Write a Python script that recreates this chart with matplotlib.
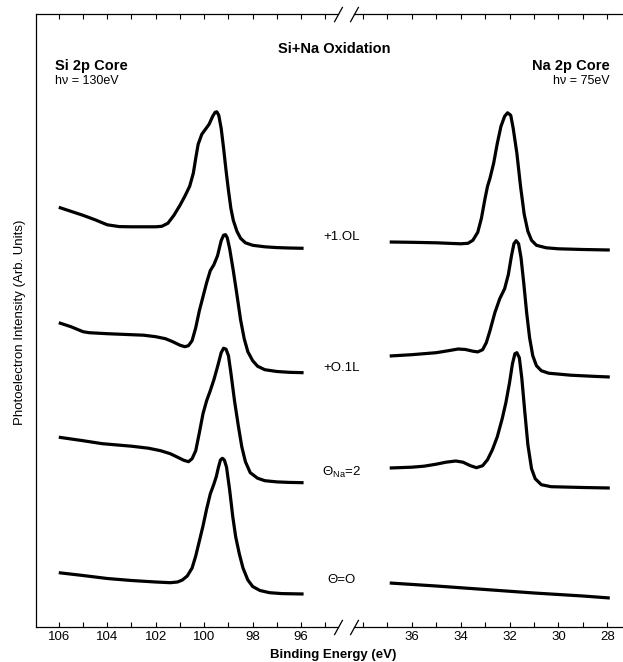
import matplotlib
matplotlib.use("Agg")
import matplotlib.pyplot as plt
import numpy as np
from matplotlib.ticker import MultipleLocator

plt.rcParams['font.family'] = ['Liberation Sans', 'DejaVu Sans']
plt.rcParams['mathtext.fontset'] = 'custom'
plt.rcParams['mathtext.rm'] = 'Liberation Sans'

# dose labels, top to bottom
doses = ["+1.OL", "+O.1L", "\u0398$_{\\rm Na}$=2", "\u0398=O"]
# vertical stacking offset of each spectrum (arb. units)
offsets = [3.787, 2.543, 1.443, 0.33]

# Si 2p core, hv = 130 eV : (binding energy, intensity)
si_10L_e = [106.0, 105.5, 105.0, 104.5, 104.0, 103.5, 103.0, 102.5, 102.0, 101.75, 101.5, 101.25,
            101.0, 100.8, 100.6, 100.45, 100.35, 100.25, 100.1, 99.95, 99.8, 99.65, 99.55, 99.48,
            99.4, 99.3, 99.2, 99.1, 99.0, 98.9, 98.8, 98.65, 98.5, 98.3, 98.0, 97.5, 97.0, 96.5, 95.9]
si_10L_i = [0.41, 0.37, 0.33, 0.285, 0.235, 0.217, 0.215, 0.215, 0.215, 0.22, 0.25, 0.33,
            0.43, 0.52, 0.62, 0.75, 0.9, 1.04, 1.14, 1.19, 1.24, 1.32, 1.36, 1.365,
            1.33, 1.2, 1.0, 0.78, 0.58, 0.4, 0.28, 0.17, 0.1, 0.055, 0.03, 0.015, 0.007, 0.003, 0.0]

si_01L_e = [106.0, 105.5, 105.0, 104.75, 104.0, 103.0, 102.5, 102.0, 101.6, 101.3, 101.0, 100.8,
            100.65, 100.5, 100.35, 100.2, 100.05, 99.9, 99.75, 99.6, 99.45, 99.3, 99.2, 99.12,
            99.05, 98.95, 98.8, 98.65, 98.5, 98.35, 98.2, 98.0, 97.8, 97.5, 97.0, 96.5, 95.9]
si_01L_i = [0.50, 0.46, 0.41, 0.40, 0.39, 0.38, 0.375, 0.36, 0.34, 0.31, 0.275, 0.26,
            0.27, 0.32, 0.45, 0.62, 0.76, 0.9, 1.02, 1.08, 1.17, 1.32, 1.375, 1.38,
            1.35, 1.24, 1.02, 0.78, 0.53, 0.34, 0.21, 0.12, 0.065, 0.03, 0.012, 0.004, 0.0]

si_na2_e = [106.0, 105.0, 104.2, 103.0, 102.3, 101.8, 101.4, 101.1, 100.85, 100.65, 100.5, 100.35,
            100.2, 100.05, 99.9, 99.75, 99.6, 99.45, 99.3, 99.2, 99.1, 99.0, 98.9, 98.75,
            98.6, 98.45, 98.3, 98.1, 97.8, 97.5, 97.0, 96.5, 95.9]
si_na2_i = [0.455, 0.42, 0.39, 0.365, 0.345, 0.32, 0.29, 0.255, 0.225, 0.21, 0.24, 0.32,
            0.5, 0.69, 0.82, 0.92, 1.03, 1.16, 1.3, 1.345, 1.335, 1.27, 1.1, 0.82,
            0.58, 0.36, 0.21, 0.1, 0.045, 0.02, 0.008, 0.003, 0.0]

si_clean_e = [106.0, 105.0, 104.0, 103.0, 102.0, 101.4, 101.1, 100.9, 100.7, 100.5, 100.35, 100.2,
              100.05, 99.9, 99.75, 99.6, 99.5, 99.42, 99.33, 99.25, 99.17, 99.08, 98.95, 98.82,
              98.7, 98.55, 98.4, 98.2, 98.0, 97.7, 97.3, 96.8, 95.9]
si_clean_i = [0.213, 0.185, 0.155, 0.135, 0.12, 0.113, 0.12, 0.14, 0.18, 0.26, 0.38, 0.53,
              0.68, 0.85, 1.0, 1.1, 1.175, 1.26, 1.34, 1.357, 1.34, 1.27, 1.04, 0.77,
              0.57, 0.4, 0.26, 0.14, 0.075, 0.035, 0.013, 0.004, 0.0]

# Na 2p core, hv = 75 eV
na_10L_e = [36.9, 36.0, 35.0, 34.5, 34.0, 33.7, 33.5, 33.3, 33.15, 33.0, 32.9, 32.8, 32.65, 32.5,
            32.35, 32.2, 32.08, 31.95, 31.85, 31.7, 31.55, 31.4, 31.25, 31.1, 30.9, 30.5, 30.0,
            29.0, 27.9]
na_10L_i = [0.063, 0.06, 0.055, 0.05, 0.045, 0.05, 0.08, 0.16, 0.3, 0.5, 0.62, 0.7, 0.85, 1.05,
            1.22, 1.32, 1.355, 1.33, 1.2, 0.95, 0.62, 0.34, 0.17, 0.08, 0.03, 0.005, -0.005,
            -0.012, -0.017]

na_01L_e = [36.9, 36.0, 35.0, 34.5, 34.1, 33.8, 33.5, 33.3, 33.1, 32.95, 32.8, 32.6, 32.4, 32.2,
            32.05, 31.92, 31.82, 31.73, 31.63, 31.53, 31.42, 31.3, 31.18, 31.05, 30.9, 30.7, 30.4,
            29.5, 28.5, 27.9]
na_01L_i = [0.167, 0.18, 0.2, 0.22, 0.237, 0.232, 0.215, 0.208, 0.23, 0.3, 0.42, 0.6, 0.74, 0.84,
            0.98, 1.17, 1.29, 1.32, 1.29, 1.15, 0.9, 0.6, 0.35, 0.17, 0.07, 0.02, -0.005,
            -0.025, -0.037, -0.043]

na_na2_e = [36.9, 36.0, 35.5, 35.0, 34.6, 34.2, 33.9, 33.6, 33.35, 33.1, 32.9, 32.7, 32.5, 32.3,
            32.15, 32.0, 31.88, 31.78, 31.7, 31.6, 31.5, 31.38, 31.25, 31.1, 30.95, 30.7, 30.3,
            29.0, 27.9]
na_na2_i = [0.147, 0.155, 0.165, 0.185, 0.205, 0.217, 0.205, 0.17, 0.15, 0.17, 0.23, 0.33, 0.46, 0.64,
            0.8, 1.0, 1.19, 1.29, 1.3, 1.25, 1.05, 0.72, 0.38, 0.14, 0.04, -0.02, -0.04,
            -0.048, -0.053]

na_clean_e = [36.9, 35.0, 33.0, 31.0, 29.0, 27.9]
na_clean_i = [0.11, 0.08, 0.045, 0.01, -0.02, -0.04]

si_e = [si_10L_e, si_01L_e, si_na2_e, si_clean_e]
si_i = [si_10L_i, si_01L_i, si_na2_i, si_clean_i]
na_e = [na_10L_e, na_01L_e, na_na2_e, na_clean_e]
na_i = [na_10L_i, na_01L_i, na_na2_i, na_clean_i]

W, H = 623, 662
fig = plt.figure(figsize=(W / 100, H / 100), dpi=100)

def fx(p):
    return p / W

def fy(p):
    return 1 - p / H

ax1 = fig.add_axes([fx(36), fy(627), fx(338 - 36), (627 - 14) / H])
ax2 = fig.add_axes([fx(354), fy(627), fx(623 - 354), (627 - 14) / H])

for e, i, off in zip(si_e, si_i, offsets):
    ax1.plot(e, np.array(i) + off, color='black', lw=2.3, solid_capstyle='butt')
for e, i, off in zip(na_e, na_i, offsets):
    ax2.plot(e, np.array(i) + off, color='black', lw=2.3, solid_capstyle='butt')

ax1.set_xlim(106.94, 94.48)
ax2.set_xlim(38.36, 27.36)
for ax in (ax1, ax2):
    ax.set_ylim(0, 6.13)
    ax.set_yticks([])
    ax.xaxis.set_major_locator(MultipleLocator(2))
    ax.xaxis.set_minor_locator(MultipleLocator(1))
    ax.tick_params(axis='x', which='both', direction='in', top=True, bottom=True,
                   length=3.5, width=0.8, labelsize=9.5, pad=3)
    for s in ax.spines.values():
        s.set_linewidth(0.9)

ax1.set_xticks([106, 104, 102, 100, 98, 96])
ax2.set_xticks([36, 34, 32, 30, 28])
ax1.spines['right'].set_visible(False)
ax2.spines['left'].set_visible(False)
ax2.spines['right'].set_visible(False)

# axis break marks
kw = dict(marker=[(-0.55, -1), (0.55, 1)], markersize=11, linestyle='none',
          color='k', mec='k', mew=0.9, clip_on=False)
ax1.plot([1, 1], [0, 1], transform=ax1.transAxes, **kw)
ax2.plot([0, 0], [0, 1], transform=ax2.transAxes, **kw)

fig.text(fx(334), fy(49), "Si+Na Oxidation", ha='center', va='center', fontsize=10.5, fontweight='bold')
fig.text(fx(55), fy(66), "Si 2p Core", ha='left', va='center', fontsize=10.5, fontweight='bold')
fig.text(fx(55), fy(81), "h\u03bd = 130eV", ha='left', va='center', fontsize=9)
fig.text(fx(610), fy(66), "Na 2p Core", ha='right', va='center', fontsize=10.5, fontweight='bold')
fig.text(fx(610), fy(81), "h\u03bd = 75eV", ha='right', va='center', fontsize=9)

label_y = [237, 368, 472, 580]
for lab, yy in zip(doses, label_y):
    fig.text(fx(342), fy(yy), lab, ha='center', va='center', fontsize=9.5)

fig.text(fx(333), fy(655), "Binding Energy (eV)", ha='center', va='center', fontsize=9.5, fontweight='bold')
fig.text(fx(20), fy(322), "Photoelectron Intensity (Arb. Units)", ha='center', va='center',
         rotation=90, fontsize=9.5)

fig.savefig("out.png", dpi=100)
